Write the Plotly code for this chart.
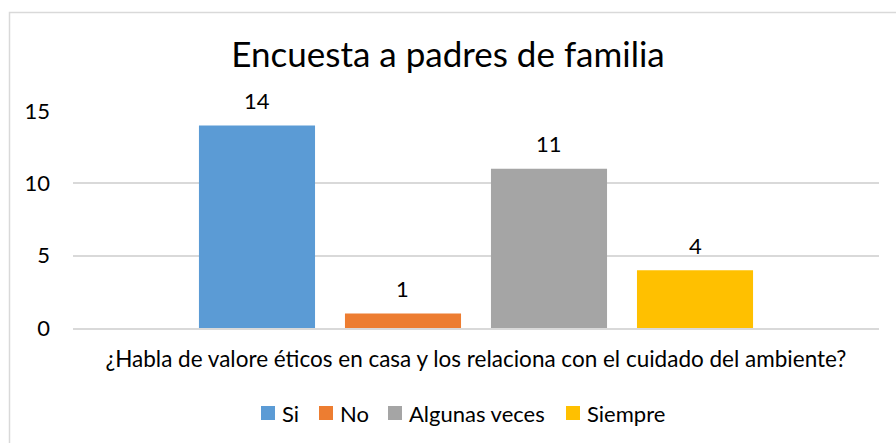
import plotly.graph_objects as go

question = ["¿Habla de valore éticos en casa y los relaciona con el cuidado del ambiente?"]
series_names = ["Si", "No", "Algunas veces", "Siempre"]
series_values = [14, 1, 11, 4]
series_colors = ["#5B9BD5", "#ED7D31", "#A5A5A5", "#FFC000"]
y_ticks = [0, 5, 10, 15]

FONT = "Lato"
W, H = 896, 443
L, R, T, B = 73, 17, 111, 115
pw, ph = W - L - R, H - T - B
BARGAP, GROUPGAP = 0.2754, 0.205

# legend layout (pixel positions of each legend square's left edge)
legend_x_px = [261, 319, 388, 566]
legend_y_px = 413
legend_sq = 14

fig = go.Figure()
for name, val, col in zip(series_names, series_values, series_colors):
    fig.add_trace(go.Bar(
        x=question, y=[val], name=name, marker=dict(color=col, line=dict(width=0)),
        hoverinfo="skip", showlegend=False,
    ))


def px_x(p):
    return (p - L) / pw


def px_y(p):
    return (H - B - p) / ph


slot_px = pw * (1 - BARGAP) / len(series_names)
annotations = []
for i, val in enumerate(series_values):
    annotations.append(dict(
        x=question[0], y=val, xref="x", yref="y", text=str(val), showarrow=False,
        xshift=(i - (len(series_names) - 1) / 2) * slot_px, yshift=25, yanchor="middle",
        font=dict(size=22, family=FONT, color="#000000"),
    ))

shapes = [dict(type="rect", xref="paper", yref="paper",
               x0=px_x(9.5), x1=px_x(910), y0=px_y(470), y1=px_y(12.5),
               line=dict(color="#D9D9D9", width=1.5), fillcolor="rgba(0,0,0,0)", layer="below")]

for name, col, lx in zip(series_names, series_colors, legend_x_px):
    shapes.append(dict(type="rect", xref="paper", yref="paper",
                       x0=px_x(lx), x1=px_x(lx + legend_sq),
                       y0=px_y(legend_y_px + legend_sq / 2), y1=px_y(legend_y_px - legend_sq / 2),
                       line=dict(width=0), fillcolor=col))
    annotations.append(dict(x=px_x(lx + legend_sq + 5), y=px_y(legend_y_px), xref="paper", yref="paper",
                            text=name, showarrow=False, xanchor="left", yanchor="middle",
                            font=dict(size=22, family=FONT, color="#000000")))

fig.update_layout(
    width=W, height=H,
    margin=dict(l=L, r=R, t=T, b=B),
    paper_bgcolor="white", plot_bgcolor="white",
    barmode="group", bargap=BARGAP, bargroupgap=GROUPGAP,
    font=dict(family=FONT, color="#000000", size=22),
    title=dict(text="Encuesta a padres de familia", x=0.5, xanchor="center",
               y=1 - 55 / H, yanchor="middle", font=dict(size=35, family=FONT, color="#000000")),
    showlegend=False,
    xaxis=dict(showgrid=False, showline=True, linecolor="#D9D9D9", linewidth=1.5,
               ticks="", tickfont=dict(size=22.5, family=FONT, color="#000000"),
               ticklabelstandoff=10),
    yaxis=dict(range=[0, 15], tickvals=y_ticks, showgrid=True, gridcolor="#D9D9D9", gridwidth=1.5,
               zeroline=False, showline=False, ticks="",
               tickfont=dict(size=22, family=FONT, color="#000000"), ticklabelstandoff=22),
    annotations=annotations,
    shapes=shapes,
)

fig.write_html("out.html", config={"displayModeBar": False},
               post_script="document.body.style.margin='0';document.body.style.padding='0';")
